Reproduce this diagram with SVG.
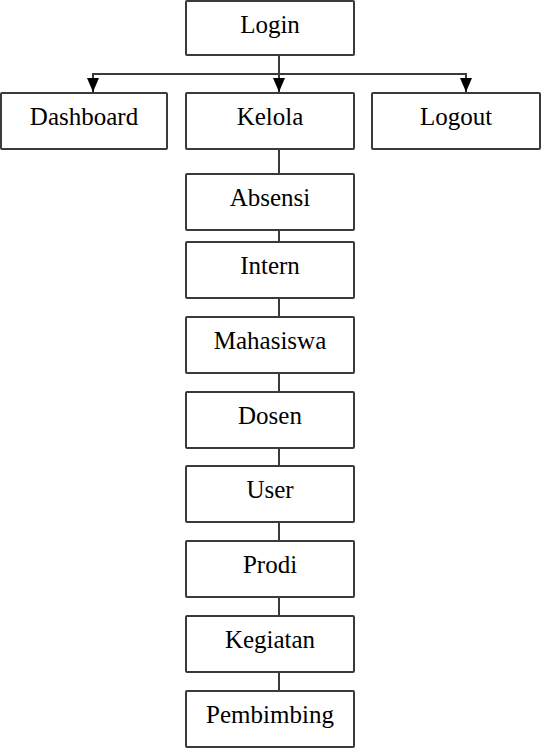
<svg xmlns="http://www.w3.org/2000/svg" width="547" height="753" viewBox="0 0 547 753">
<defs>
<style>
.box{fill:#fff;stroke:#3a3a3a;stroke-width:2}
.lbl{font-family:"Liberation Serif","Times New Roman",serif;font-size:25px;fill:#000;text-anchor:middle}
.ln{stroke:#3a3a3a;stroke-width:2;fill:none}
</style>
<marker id="arr" markerUnits="userSpaceOnUse" markerWidth="14" markerHeight="12" viewBox="0 0 14 12" refX="14" refY="6" orient="auto">
<path d="M0,0 L14,6 L0,12 Z" fill="#000"/>
</marker>
</defs>
<rect width="547" height="753" fill="#fff"/>
<g id="connectors">
<line class="ln" x1="279" y1="55" x2="279" y2="92" marker-end="url(#arr)"/>
<polyline class="ln" points="93,80 93,74 466,74 466,80"/>
<line class="ln" x1="93" y1="74" x2="93" y2="92" marker-end="url(#arr)"/>
<line class="ln" x1="466" y1="74" x2="466" y2="92" marker-end="url(#arr)"/>
<line class="ln" x1="279" y1="149" x2="279" y2="174"/>
<line class="ln" x1="279" y1="230" x2="279" y2="242"/>
<line class="ln" x1="279" y1="298" x2="279" y2="317"/>
<line class="ln" x1="279" y1="373" x2="279" y2="392"/>
<line class="ln" x1="279" y1="448" x2="279" y2="466"/>
<line class="ln" x1="279" y1="522" x2="279" y2="541"/>
<line class="ln" x1="279" y1="597" x2="279" y2="616"/>
<line class="ln" x1="279" y1="672" x2="279" y2="691"/>
</g>
<g id="login"><rect class="box" x="186" y="1" width="168" height="54" rx="1"/><text class="lbl" x="270" y="33">Login</text></g>
<g id="dashboard"><rect class="box" x="1" y="93" width="166" height="56" rx="1"/><text class="lbl" x="84" y="125">Dashboard</text></g>
<g id="kelola"><rect class="box" x="186" y="93" width="168" height="56" rx="1"/><text class="lbl" x="270" y="125">Kelola</text></g>
<g id="logout"><rect class="box" x="372" y="93" width="168" height="56" rx="1"/><text class="lbl" x="456" y="125">Logout</text></g>
<g id="absensi"><rect class="box" x="186" y="174" width="168" height="56" rx="1"/><text class="lbl" x="270" y="206">Absensi</text></g>
<g id="intern"><rect class="box" x="186" y="242" width="168" height="56" rx="1"/><text class="lbl" x="270" y="274">Intern</text></g>
<g id="mahasiswa"><rect class="box" x="186" y="317" width="168" height="56" rx="1"/><text class="lbl" x="270" y="349">Mahasiswa</text></g>
<g id="dosen"><rect class="box" x="186" y="392" width="168" height="56" rx="1"/><text class="lbl" x="270" y="424">Dosen</text></g>
<g id="user"><rect class="box" x="186" y="466" width="168" height="56" rx="1"/><text class="lbl" x="270" y="498">User</text></g>
<g id="prodi"><rect class="box" x="186" y="541" width="168" height="56" rx="1"/><text class="lbl" x="270" y="573">Prodi</text></g>
<g id="kegiatan"><rect class="box" x="186" y="616" width="168" height="56" rx="1"/><text class="lbl" x="270" y="648">Kegiatan</text></g>
<g id="pembimbing"><rect class="box" x="186" y="691" width="168" height="56" rx="1"/><text class="lbl" x="270" y="723">Pembimbing</text></g>
</svg>
